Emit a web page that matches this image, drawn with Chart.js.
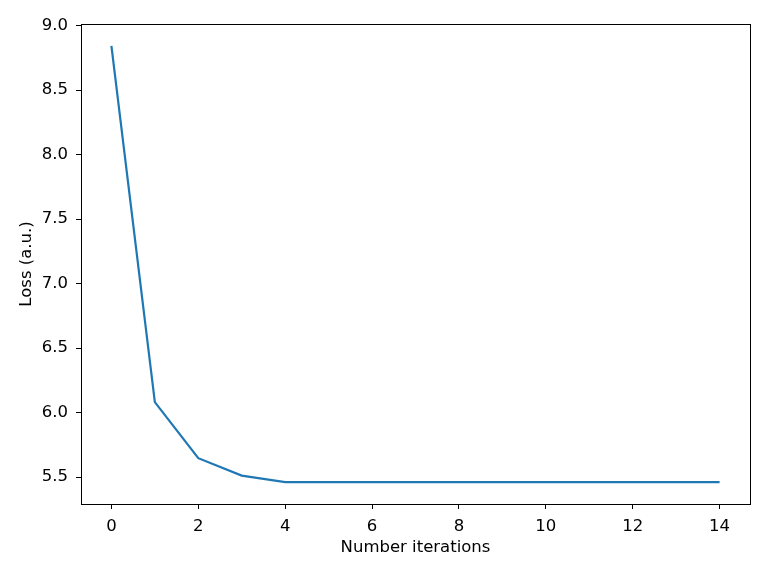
<!DOCTYPE html>
<html>
<head>
<meta charset="utf-8">
<script src="https://cdn.jsdelivr.net/npm/chart.js@4"></script>
<style>
html,body{margin:0;padding:0;background:#fff;}
canvas{display:block;}
</style>
</head>
<body>
<canvas id="c" width="768" height="576"></canvas>
<script>
const iterations = [0,1,2,3,4,5,6,7,8,9,10,11,12,13,14];
const loss = [8.844,6.082,5.647,5.512,5.461,5.461,5.461,5.461,5.461,5.461,5.461,5.461,5.461,5.461,5.461];
const xTicks = [0,2,4,6,8,10,12,14];
const yTicks = [5.5,6.0,6.5,7.0,7.5,8.0,8.5,9.0];
const xLabel = 'Number iterations';
const yLabel = 'Loss (a.u.)';

const FONT = 'DejaVu Sans';
const FS = 16.5;
const frame = {
  id:'frame',
  afterDraw(chart){
    const {ctx, chartArea:a} = chart;
    ctx.save();
    ctx.strokeStyle='#000';
    ctx.lineWidth=1;
    ctx.strokeRect(Math.round(a.left)+0.5, Math.round(a.top)+0.5, Math.round(a.right-a.left), Math.round(a.bottom-a.top));
    ctx.restore();
  }
};

new Chart(document.getElementById('c'), {
  type:'line',
  data:{
    datasets:[{
      data: iterations.map((x,i)=>({x:x,y:loss[i]})),
      borderColor:'#1f77b4',
      borderWidth:2.2,
      pointRadius:0,
      tension:0,
      fill:false
    }]
  },
  options:{
    responsive:false,
    animation:false,
    devicePixelRatio:1,
    layout:{padding:{top:24,right:18,left:17,bottom:18}},
    plugins:{legend:{display:false},tooltip:{enabled:false}},
    scales:{
      x:{
        type:'linear',
        min:-0.7, max:14.7,
        afterBuildTicks(s){ s.ticks = xTicks.map(v=>({value:v})); },
        afterFit(s){ s.height = 54; },
        grid:{drawOnChartArea:false, drawTicks:true, tickLength:5, tickColor:'#000'},
        border:{display:true,color:'#000',width:1},
        ticks:{color:'#000',font:{family:FONT,size:FS},padding:8,maxRotation:0,autoSkip:false,callback:v=>String(v)},
        title:{display:true,text:xLabel,color:'#000',font:{family:FONT,size:FS},padding:{top:2,bottom:0}}
      },
      y:{
        type:'linear',
        min:5.292, max:9.013,
        afterBuildTicks(s){ s.ticks = yTicks.map(v=>({value:v})); },
        afterFit(s){ s.width = 64; },
        grid:{drawOnChartArea:false, drawTicks:true, tickLength:5, tickColor:'#000'},
        border:{display:true,color:'#000',width:1},
        ticks:{color:'#000',font:{family:FONT,size:FS},padding:8,autoSkip:false,callback:v=>v.toFixed(1)},
        title:{display:true,text:yLabel,color:'#000',font:{family:FONT,size:FS},padding:{top:0,bottom:4}}
      }
    }
  },
  plugins:[frame]
});
</script>
</body>
</html>
